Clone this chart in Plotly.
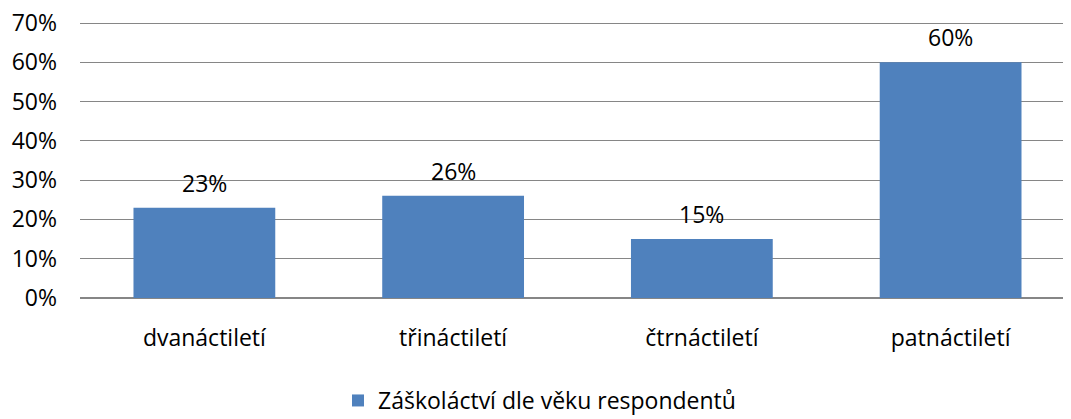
import plotly.graph_objects as go

# --- DATA ---
categories = ["dvanáctiletí", "třináctiletí", "čtrnáctiletí", "patnáctiletí"]
values = [23, 26, 15, 60]
series_name = "Záškoláctví dle věku respondentů"
y_ticks = [0, 10, 20, 30, 40, 50, 60, 70]
y_tick_labels = [f"{v}%" for v in y_ticks]

FONT = "Open Sans"
FS = 23
BAR_COLOR = "#4F81BD"
GRID = "#868686"

fig = go.Figure()

fig.add_trace(go.Bar(
    x=categories,
    y=values,
    name=series_name,
    marker=dict(color=BAR_COLOR, line=dict(width=0)),
    width=0.57,
    showlegend=True,
))

# data labels above bars
for cat, val in zip(categories, values):
    fig.add_annotation(
        x=cat, y=val, text=f"{val}%",
        showarrow=False, yanchor="bottom", yshift=7,
        font=dict(family=FONT, size=FS, color="#000000"),
    )

# page body has an 8px margin, so the figure is a bit smaller than the window
fig.update_layout(
    width=1063,
    height=411,
    margin=dict(l=72, r=0, t=13, b=121, autoexpand=False),
    paper_bgcolor="white",
    plot_bgcolor="white",
    font=dict(family=FONT, size=FS, color="#000000"),
    showlegend=True,
    legend=dict(
        orientation="h",
        xref="container", yref="container",
        x=0.5, xanchor="center",
        y=0.045, yanchor="middle",
        font=dict(family=FONT, size=FS),
        itemwidth=30,
    ),
)

fig.update_xaxes(
    range=[-0.5, 3.484],
    automargin=False,
    showgrid=False,
    showline=False,
    ticks="",
    ticklabelstandoff=24,
    tickfont=dict(family=FONT, size=FS),
)

# top of range a touch above 70 so the 70% gridline isn't dropped at the edge
fig.update_yaxes(
    range=[0, 70.51],
    automargin=False,
    tickvals=y_ticks,
    ticktext=y_tick_labels,
    ticklabeloverflow="allow",
    showgrid=True,
    gridcolor=GRID,
    gridwidth=1,
    zeroline=True,
    zerolinecolor=GRID,
    zerolinewidth=1.5,
    showline=False,
    ticks="",
    ticklabelstandoff=22,
    tickfont=dict(family=FONT, size=FS),
)

fig.write_html("out.html")
